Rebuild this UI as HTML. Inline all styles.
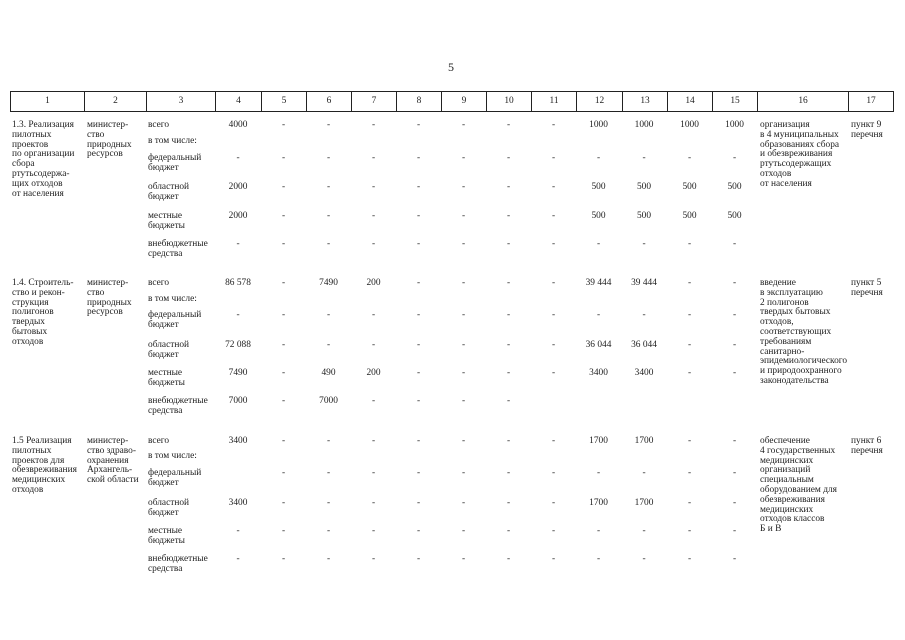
<!DOCTYPE html>
<html><head><meta charset="utf-8"><style>
body{margin:0;width:905px;height:640px;background:#fff;position:relative;overflow:hidden;font-family:"Liberation Serif",serif;font-size:9.4px;color:#222;line-height:9.8px}
.a{position:absolute;white-space:nowrap}
.hdr{position:absolute;left:10px;top:91px;width:884px;height:21px;border:1.5px solid #222;box-sizing:border-box;display:flex}
.hdr div{border-right:1px solid #222;text-align:center;line-height:18px;box-sizing:border-box}
.hdr div:last-child{border-right:none}
.r{position:absolute;left:215px;display:flex}
.r span{display:block;text-align:center}
.r span:nth-child(1){width:46px}.r span:nth-child(2){width:45px}.r span:nth-child(3){width:45px}.r span:nth-child(4){width:45px}
.r span:nth-child(5){width:45px}.r span:nth-child(6){width:45px}.r span:nth-child(7){width:45px}.r span:nth-child(8){width:45px}
.r span:nth-child(9){width:45px}.r span:nth-child(10){width:46px}.r span:nth-child(11){width:45px}.r span:nth-child(12){width:45px}
</style></head><body>
<div class="a" style="left:448px;top:63px;font-size:12px">5</div>
<div class="hdr">
<div style="width:74px">1</div><div style="width:62px">2</div><div style="width:69px">3</div><div style="width:46px">4</div><div style="width:45px">5</div><div style="width:45px">6</div><div style="width:45px">7</div><div style="width:45px">8</div><div style="width:45px">9</div><div style="width:45px">10</div><div style="width:45px">11</div><div style="width:46px">12</div><div style="width:45px">13</div><div style="width:45px">14</div><div style="width:45px">15</div><div style="width:91px">16</div><div style="width:44px">17</div>
</div>

<!-- Block 1 -->
<div class="a" style="left:12px;top:121px">1.3. Реализация<br>пилотных<br>проектов<br>по организации<br>сбора<br>ртутьсодержа-<br>щих отходов<br>от населения</div>
<div class="a" style="left:87px;top:121px">министер-<br>ство<br>природных<br>ресурсов</div>
<div class="a" style="left:148px;top:121px">всего</div>
<div class="a" style="left:148px;top:137px">в том числе:</div>
<div class="a" style="left:148px;top:154px">федеральный<br>бюджет</div>
<div class="a" style="left:148px;top:183px">областной<br>бюджет</div>
<div class="a" style="left:148px;top:212px">местные<br>бюджеты</div>
<div class="a" style="left:148px;top:240px">внебюджетные<br>средства</div>
<div class="r" style="top:121px"><span>4000</span><span>-</span><span>-</span><span>-</span><span>-</span><span>-</span><span>-</span><span>-</span><span>1000</span><span>1000</span><span>1000</span><span>1000</span></div>
<div class="r" style="top:154px"><span>-</span><span>-</span><span>-</span><span>-</span><span>-</span><span>-</span><span>-</span><span>-</span><span>-</span><span>-</span><span>-</span><span>-</span></div>
<div class="r" style="top:183px"><span>2000</span><span>-</span><span>-</span><span>-</span><span>-</span><span>-</span><span>-</span><span>-</span><span>500</span><span>500</span><span>500</span><span>500</span></div>
<div class="r" style="top:212px"><span>2000</span><span>-</span><span>-</span><span>-</span><span>-</span><span>-</span><span>-</span><span>-</span><span>500</span><span>500</span><span>500</span><span>500</span></div>
<div class="r" style="top:240px"><span>-</span><span>-</span><span>-</span><span>-</span><span>-</span><span>-</span><span>-</span><span>-</span><span>-</span><span>-</span><span>-</span><span>-</span></div>
<div class="a" style="left:760px;top:121px">организация<br>в 4 муниципальных<br>образованиях сбора<br>и обезвреживания<br>ртутьсодержащих<br>отходов<br>от населения</div>
<div class="a" style="left:851px;top:121px">пункт 9<br>перечня</div>

<!-- Block 2 -->
<div class="a" style="left:12px;top:279px">1.4. Строитель-<br>ство и рекон-<br>струкция<br>полигонов<br>твердых<br>бытовых<br>отходов</div>
<div class="a" style="left:87px;top:279px">министер-<br>ство<br>природных<br>ресурсов</div>
<div class="a" style="left:148px;top:279px">всего</div>
<div class="a" style="left:148px;top:295px">в том числе:</div>
<div class="a" style="left:148px;top:311px">федеральный<br>бюджет</div>
<div class="a" style="left:148px;top:341px">областной<br>бюджет</div>
<div class="a" style="left:148px;top:369px">местные<br>бюджеты</div>
<div class="a" style="left:148px;top:397px">внебюджетные<br>средства</div>
<div class="r" style="top:279px"><span>86 578</span><span>-</span><span>7490</span><span>200</span><span>-</span><span>-</span><span>-</span><span>-</span><span>39 444</span><span>39 444</span><span>-</span><span>-</span></div>
<div class="r" style="top:311px"><span>-</span><span>-</span><span>-</span><span>-</span><span>-</span><span>-</span><span>-</span><span>-</span><span>-</span><span>-</span><span>-</span><span>-</span></div>
<div class="r" style="top:341px"><span>72 088</span><span>-</span><span>-</span><span>-</span><span>-</span><span>-</span><span>-</span><span>-</span><span>36 044</span><span>36 044</span><span>-</span><span>-</span></div>
<div class="r" style="top:369px"><span>7490</span><span>-</span><span>490</span><span>200</span><span>-</span><span>-</span><span>-</span><span>-</span><span>3400</span><span>3400</span><span>-</span><span>-</span></div>
<div class="r" style="top:397px"><span>7000</span><span>-</span><span>7000</span><span>-</span><span>-</span><span>-</span><span>-</span></div>
<div class="a" style="left:760px;top:279px">введение<br>в эксплуатацию<br>2 полигонов<br>твердых бытовых<br>отходов,<br>соответствующих<br>требованиям<br>санитарно-<br>эпидемиологического<br>и природоохранного<br>законодательства</div>
<div class="a" style="left:851px;top:279px">пункт 5<br>перечня</div>

<!-- Block 3 -->
<div class="a" style="left:12px;top:437px">1.5  Реализация<br>пилотных<br>проектов для<br>обезвреживания<br>медицинских<br>отходов</div>
<div class="a" style="left:87px;top:437px">министер-<br>ство здраво-<br>охранения<br>Архангель-<br>ской области</div>
<div class="a" style="left:148px;top:437px">всего</div>
<div class="a" style="left:148px;top:452px">в том числе:</div>
<div class="a" style="left:148px;top:469px">федеральный<br>бюджет</div>
<div class="a" style="left:148px;top:499px">областной<br>бюджет</div>
<div class="a" style="left:148px;top:527px">местные<br>бюджеты</div>
<div class="a" style="left:148px;top:555px">внебюджетные<br>средства</div>
<div class="r" style="top:437px"><span>3400</span><span>-</span><span>-</span><span>-</span><span>-</span><span>-</span><span>-</span><span>-</span><span>1700</span><span>1700</span><span>-</span><span>-</span></div>
<div class="r" style="top:469px"><span></span><span>-</span><span>-</span><span>-</span><span>-</span><span>-</span><span>-</span><span>-</span><span>-</span><span>-</span><span>-</span><span>-</span></div>
<div class="r" style="top:499px"><span>3400</span><span>-</span><span>-</span><span>-</span><span>-</span><span>-</span><span>-</span><span>-</span><span>1700</span><span>1700</span><span>-</span><span>-</span></div>
<div class="r" style="top:527px"><span>-</span><span>-</span><span>-</span><span>-</span><span>-</span><span>-</span><span>-</span><span>-</span><span>-</span><span>-</span><span>-</span><span>-</span></div>
<div class="r" style="top:555px"><span>-</span><span>-</span><span>-</span><span>-</span><span>-</span><span>-</span><span>-</span><span>-</span><span>-</span><span>-</span><span>-</span><span>-</span></div>
<div class="a" style="left:760px;top:437px">обеспечение<br>4 государственных<br>медицинских<br>организаций<br>специальным<br>оборудованием для<br>обезвреживания<br>медицинских<br>отходов классов<br>Б и В</div>
<div class="a" style="left:851px;top:437px">пункт 6<br>перечня</div>
</body></html>
